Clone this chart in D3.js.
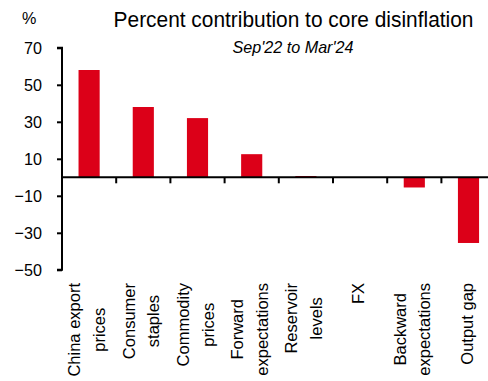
<!DOCTYPE html>
<html>
<head>
<meta charset="utf-8">
<script src="https://cdn.jsdelivr.net/npm/d3@7"></script>
<style>
  html, body { margin: 0; padding: 0; background: #fff; }
  svg { display: block; font-family: "Liberation Sans", Arial, sans-serif; }
</style>
</head>
<body>
<svg id="chart" width="488" height="381"></svg>
<script>
// Contribution of each driver to core disinflation (%), Sep'22 to Mar'24
const categories = [
  ["China export", "prices"],
  ["Consumer", "staples"],
  ["Commodity", "prices"],
  ["Forward", "expectations"],
  ["Reservoir", "levels"],
  ["FX"],
  ["Backward", "expectations"],
  ["Output gap"]
];
const values = [58, 38, 32, 12.5, 0.7, 0, -5.5, -35.5];
const yTicks = [70, 50, 30, 10, -10, -30, -50];
const yDomain = [-50, 70];

const title = "Percent contribution to core disinflation";
const subtitle = "Sep'22 to Mar'24";
const unitLabel = "%";

const W = 488, H = 381;
const plot = { left: 62, right: 495.6, top: 47.8, bottom: 269.8 };
const barColor = "#dc0018";
const condense = 0.95; // slightly narrow glyphs for horizontal text

const svg = d3.select("#chart");
const keys = categories.map(c => c.join(" "));

const x = d3.scaleBand()
  .domain(keys)
  .range([plot.left, plot.right])
  .paddingInner(0.61)
  .paddingOuter(0.305);
const step = x.step();

const y = d3.scaleLinear().domain(yDomain).range([plot.bottom, plot.top]);

// Horizontal text, drawn slightly condensed around its anchor point
function hText(parent, str, px, py, size, anchor, italic) {
  return parent.append("text")
    .attr("transform", `translate(${px},${py}) scale(${condense},1)`)
    .attr("text-anchor", anchor)
    .attr("font-size", size)
    .attr("font-style", italic ? "italic" : "normal")
    .attr("fill", "#000")
    .text(str);
}

// Title block
hText(svg, title, 293.5, 27, 22, "middle", false);
hText(svg, subtitle, 293, 53, 17, "middle", true);
hText(svg, unitLabel, 22, 24, 17, "start", false);

// Bars
svg.append("g")
  .selectAll("rect")
  .data(values)
  .join("rect")
  .attr("x", (d, i) => x(keys[i]))
  .attr("width", x.bandwidth())
  .attr("y", d => y(Math.max(0, d)))
  .attr("height", d => Math.abs(y(d) - y(0)))
  .attr("fill", barColor);

// Y axis
const yAxis = svg.append("g")
  .attr("transform", `translate(${plot.left},0)`)
  .call(d3.axisLeft(y).tickValues(yTicks).tickSize(5).tickPadding(15).tickFormat(d3.format("d")));
yAxis.select(".domain").attr("stroke", "#000").attr("stroke-width", 2)
  .attr("d", `M-5,${y(70)}H0V${y(-50)}H-5`);
yAxis.selectAll(".tick line").attr("stroke", "#000").attr("stroke-width", 2);
yAxis.selectAll(".tick text")
  .attr("x", null)
  .attr("transform", `translate(-20,0) scale(${condense},1)`)
  .attr("font-size", 17)
  .attr("font-family", "Liberation Sans, Arial, sans-serif")
  .attr("fill", "#000");

// Zero line with category separators
const y0 = y(0);
svg.append("line")
  .attr("x1", plot.left).attr("x2", W)
  .attr("y1", y0).attr("y2", y0)
  .attr("stroke", "#000").attr("stroke-width", 2);
svg.append("g")
  .selectAll("line")
  .data(keys.slice(1))
  .join("line")
  .attr("x1", d => x(d) - step * 0.305)
  .attr("x2", d => x(d) - step * 0.305)
  .attr("y1", y0).attr("y2", y0 + 6)
  .attr("stroke", "#000").attr("stroke-width", 2);

// Category labels, rotated, lines centred on each other, block hung below the axis
const labelTop = 283;
const labelG = svg.append("g");
categories.forEach((lines, i) => {
  const cx = x(keys[i]) + x.bandwidth() / 2;
  const g = labelG.append("g").attr("transform", `translate(${cx},${labelTop}) rotate(-90)`);
  const offsets = lines.length === 1 ? [4.2] : [-8.7, 16];
  const texts = lines.map((t, j) => g.append("text")
    .attr("y", offsets[j])
    .attr("text-anchor", "middle")
    .attr("font-size", 16.5)
    .attr("fill", "#000")
    .text(t));
  const maxW = d3.max(texts, t => t.node().getComputedTextLength());
  texts.forEach(t => t.attr("x", -maxW / 2));
});
</script>
</body>
</html>
